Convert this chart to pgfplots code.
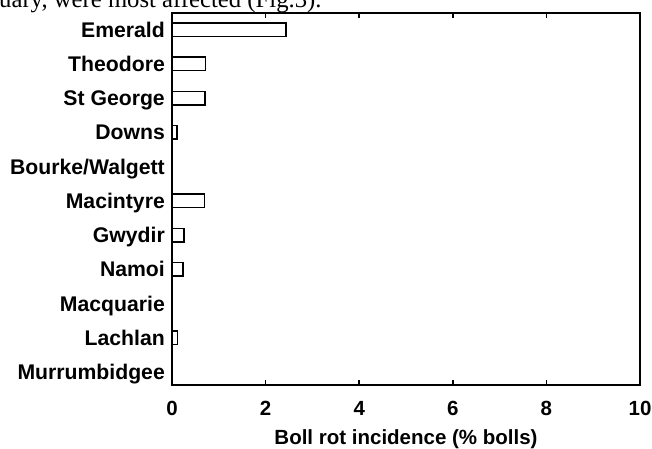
\documentclass[border=0pt]{standalone}
\usepackage{fontspec}
\setmainfont{Liberation Sans}
\newfontfamily\serif{Liberation Serif}
\usepackage{pgfplots}
\pgfplotsset{compat=1.18}
\begin{document}
\begin{tikzpicture}[x=1pt,y=1pt]
  \begin{axis}[
      at={(172pt,63pt)}, anchor=south west,
      scale only axis, width=468pt, height=372pt,
      xbar, bar width=13.5pt,
      xmin=0, xmax=10,
      ymin=-0.49, ymax=10.38, y dir=reverse,
      xtick={0,2,4,6,8,10},
      ytick={0,1,2,3,4,5,6,7,8,9,10},
      yticklabels={Emerald,Theodore,St George,Downs,Bourke/Walgett,Macintyre,Gwydir,Namoi,Macquarie,Lachlan,Murrumbidgee},
      tick align=inside,
      xtick pos=both,
      major tick length=5pt,
      ytick style={draw=none},
      xtick style={line width=1.6pt, black},
      axis line style={line width=1.9pt},
      /pgf/number format/assume math mode=true,
      xticklabel style={font=\fontsize{20.5}{24}\selectfont\bfseries, inner sep=0pt, anchor=north, yshift=-16pt},
      yticklabel style={font=\fontsize{21.2}{24}\selectfont\bfseries, inner sep=0pt, anchor=east, xshift=-7pt, text height=15pt, text depth=0pt},
      xlabel={Boll rot incidence (\% bolls)},
      xlabel style={font=\fontsize{20.5}{24}\selectfont\bfseries, at={(axis description cs:0.5,0)}, anchor=north, inner sep=0pt, yshift=-44pt},
    ]
    \addplot[draw=black, fill=white, line width=1.5pt] coordinates {
        (2.44,0)
        (0.72,1)
        (0.71,2)
        (0.11,3)
        (0,4)
        (0.69,5)
        (0.26,6)
        (0.24,7)
        (0,8)
        (0.12,9)
        (0,10)
      };
  \end{axis}
  \node[anchor=base west, inner sep=0pt, font=\serif\fontsize{24.7}{28}\selectfont] at (-1pt,440.5pt) {uary, were most affected (Fig.3).};
  \pgfresetboundingbox
  \useasboundingbox (0,0) rectangle (652pt,448pt);
\end{tikzpicture}
\end{document}
